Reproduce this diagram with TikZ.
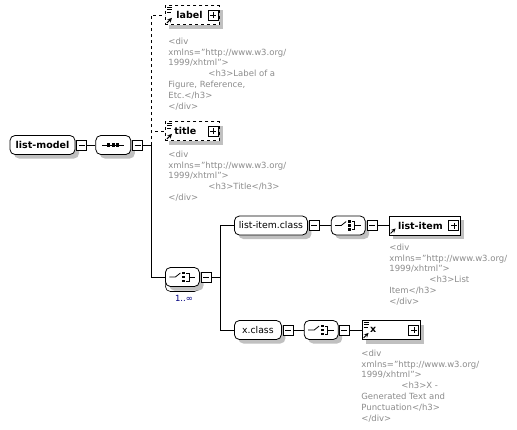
\documentclass[tikz,border=0pt]{standalone}
\usepackage{fontspec}
\setmainfont{DejaVu Sans}
\usetikzlibrary{positioning,shadows,calc}
\definecolor{notegray}{RGB}{140,140,140}
\definecolor{shadegray}{RGB}{192,192,192}
\definecolor{countblue}{RGB}{0,0,128}

\begin{document}
\begin{tikzpicture}[
    x=1pt, y=-1pt, line width=0.8pt,
    font=\fontsize{9.3}{11}\selectfont,
    shadowed/.style={general shadow={fill=shadegray, shadow xshift=4pt, shadow yshift=-4pt}},
    grp/.style={rectangle, rounded corners=5pt, draw, fill=white, shadowed, inner xsep=1pt, inner ysep=0pt, minimum height=19pt, minimum width=#1},
    elem/.style={rectangle, draw, fill=white, shadowed, align=left, inner xsep=0pt, inner ysep=0pt, minimum height=19pt, text width=#1, font=\fontsize{9.5}{11}\selectfont\bfseries},
    opt/.style={dashed},
    tog/.style={rectangle, draw, line width=1pt, fill=white, minimum size=10pt, inner sep=0pt},
    minus/.style={tog, path picture={\draw[line width=0.8pt] ([xshift=2pt]path picture bounding box.west) -- ([xshift=-2pt]path picture bounding box.east);}},
    plus/.style={tog, path picture={\draw[line width=0.8pt] ([xshift=2pt]path picture bounding box.west) -- ([xshift=-2pt]path picture bounding box.east) ([yshift=2pt]path picture bounding box.south) -- ([yshift=-2pt]path picture bounding box.north);}},
    seqicon/.style={path picture={\begin{scope}[sharp corners, shift={(path picture bounding box.center)}]
        \draw[line width=1pt] (-11,0) -- (11,0);
        \foreach \k in {-4.5,0,4.5} \fill[black] (\k-1.6,-1.6) rectangle (\k+1.6,1.6);
      \end{scope}}},
    choiceicon/.style={path picture={\begin{scope}[sharp corners, shift={(path picture bounding box.center)}]
        \draw (-13,0) -- (-7,0) -- (-2,-4);
        \foreach \k in {-4,0,4} \fill[black] (0,\k-1.4) rectangle (2.8,\k+1.4);
        \draw (3.8,-4) -- (6.5,-4) -- (6.5,4) -- (3.8,4) (6.5,0) -- (13,0);
      \end{scope}}},
    docicon/.style={line width=0.6pt, solid},
    refarrow/.style={line width=1pt, solid, -stealth},
    note/.style={anchor=north west, align=left, inner sep=0pt, text=notegray, font=\fontsize{8.5}{10.8}\selectfont},
    many/.style={general shadow={fill=white, draw=black, line width=0.6pt, shadow yshift=-5pt}}
]
    \useasboundingbox[fill=white] (0,0) rectangle (517,429);

    % root and sequence
    \node[grp=65pt, font=\fontsize{9.5}{11}\selectfont\bfseries] (lm) at (42.5,145) {list-model};
    \node[minus, right=1pt of lm] (lmm) {};
    \node[grp=35pt, seqicon, right=8pt of lmm] (seq) {};
    \node[minus, right=1pt of seq] (seqm) {};
    \coordinate (j1) at (151,145);

    % optional elements
    \node[elem=54pt, opt, anchor=west] (lab) at (165,15) {\hspace*{11pt}label};
    \node[plus, anchor=east] (labp) at ([xshift=-1pt]lab.east) {};
    \node[note] (labn) at (168,37.5) {<div\\xmlns="http://www.w3.org/\\1999/xhtml">\\\hspace*{40pt}<h3>Label of a\\Figure, Reference,\\Etc.</h3>\\</div>};

    \node[elem=54pt, opt, anchor=west] (tit) at (165,131) {\hspace*{9pt}title};
    \node[plus, anchor=east] (titp) at ([xshift=-1pt]tit.east) {};
    \node[note] (titn) at (168,150.5) {<div\\xmlns="http://www.w3.org/\\1999/xhtml">\\\hspace*{40pt}<h3>Title</h3>\\</div>};

    % repeated choice
    \node[grp=34pt, choiceicon, many, shadowed, anchor=west] (ch1) at (165,277) {};
    \node[minus, right=1pt of ch1] (ch1m) {};
    \node[text=countblue, font=\fontsize{8.5}{10}\selectfont] (cnt) at (184,298) {1..∞};
    \coordinate (j2) at (220,277);

    % list-item branch
    \node[grp=73pt, anchor=west] (lic) at (234,225.5) {list-item.class};
    \node[minus, right=1pt of lic] (licm) {};
    \node[grp=34pt, choiceicon, right=11pt of licm] (ch2) {};
    \node[minus, right=1pt of ch2] (ch2m) {};
    \node[elem=71pt, right=11pt of ch2m] (li) {\hspace*{9pt}list-item};
    \node[plus, anchor=east] (lip) at ([xshift=-1pt]li.east) {};
    \node[note] (lin) at (389,243.5) {<div\\xmlns="http://www.w3.org/\\1999/xhtml">\\\hspace*{40pt}<h3>List\\Item</h3>\\</div>};

    % x branch
    \node[grp=47pt, anchor=west] (xc) at (234,330) {x.class};
    \node[minus, right=1pt of xc] (xcm) {};
    \node[grp=34pt, choiceicon, right=10pt of xcm] (ch3) {};
    \node[minus, right=0pt of ch3] (ch3m) {};
    \node[elem=58pt, right=12pt of ch3m] (xb) {\hspace*{8pt}x};
    \node[plus, anchor=east] (xbp) at ([xshift=-1pt]xb.east) {};
    \node[note] (xn) at (361,349.5) {<div\\xmlns="http://www.w3.org/\\1999/xhtml">\\\hspace*{40pt}<h3>X -\\Generated Text and\\Punctuation</h3>\\</div>};

    % element marks
    \foreach \e in {lab,tit,xb}
        \draw[docicon] ([shift={(2pt,-2pt)}]\e.north west) -- ++(5pt,0pt)
                       ([shift={(2pt,-4.5pt)}]\e.north west) -- ++(5pt,0pt)
                       ([shift={(2pt,-7pt)}]\e.north west) -- ++(4pt,0pt);
    \foreach \e in {lab,tit,li,xb}
        \draw[refarrow] ([shift={(2pt,2pt)}]\e.south west) -- ++(5pt,5pt);

    % connectors
    \draw (lmm) -- (seq);
    \draw (seqm) -- (j1);
    \draw[dashed] (j1) |- (lab);
    \draw[dashed] (j1) |- (tit);
    \draw (j1) |- (ch1);
    \draw (ch1m) -- (j2);
    \draw (j2) |- (lic);
    \draw (j2) |- (xc);
    \draw (licm) -- (ch2);
    \draw (ch2m) -- (li);
    \draw (xcm) -- (ch3);
    \draw (ch3m) -- (xb);
\end{tikzpicture}
\end{document}
